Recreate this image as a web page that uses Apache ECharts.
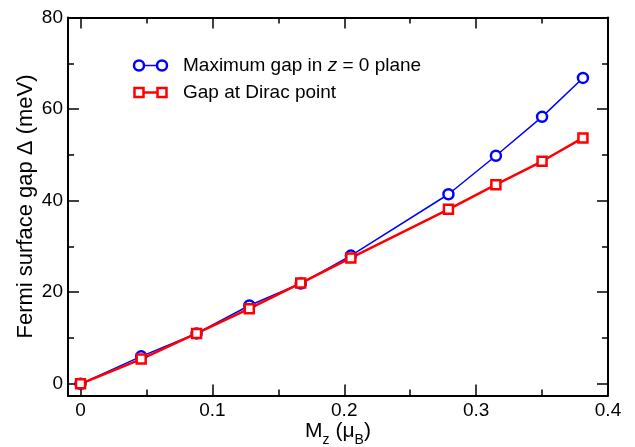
<!DOCTYPE html>
<html>
<head>
<meta charset="utf-8">
<script src="https://cdn.jsdelivr.net/npm/echarts@6/dist/echarts.min.js"></script>
<style>
  html, body { margin: 0; padding: 0; background: #fff; }
  #chart { width: 635px; height: 447px; }
</style>
</head>
<body>
<div id="chart"></div>
<script>
// Magnetization M_z (μB) at which the gaps were computed
const mz = [0, 0.046, 0.088, 0.128, 0.167, 0.205, 0.279, 0.315, 0.35, 0.381];
// Maximum gap in the z = 0 plane (meV)
const maxGap = [0, 6.0, 11.0, 17.1, 21.9, 28.0, 41.4, 49.8, 58.3, 66.8];
// Gap at the Dirac point (meV)
const diracGap = [0, 5.4, 11.0, 16.4, 22.0, 27.5, 38.1, 43.5, 48.6, 53.7];

const xMajor = [0, 0.1, 0.2, 0.3, 0.4];
const xMinor = [0.05, 0.15, 0.25, 0.35];
const yMajor = [0, 20, 40, 60, 80];
const yMinor = [10, 30, 50, 70];

const seriesNames = ['Maximum gap in z = 0 plane', 'Gap at Dirac point'];

const FONT = '"Liberation Sans", Arial, sans-serif';
const X_MIN = -0.0095, X_MAX = 0.4;
const Y_MIN = -2.55, Y_MAX = 80;

function pairs(xs, ys) { return xs.map((x, i) => [x, ys[i]]); }
function fmt(v) { return String(+(+v).toFixed(2)); }

function makeAxis(kind, position, ticks, len, withLine, withLabels) {
  return {
    type: 'value', position: position,
    min: kind === 'x' ? X_MIN : Y_MIN,
    max: kind === 'x' ? X_MAX : Y_MAX,
    nameMoveOverlap: false,
    splitLine: { show: false },
    axisLine: { show: withLine, onZero: false, lineStyle: { color: '#000', width: 2 } },
    axisTick: { show: true, inside: true, length: len, customValues: ticks,
                lineStyle: { color: '#000', width: 1.5 } },
    axisLabel: { show: withLabels, customValues: ticks, formatter: fmt,
                 color: '#000', fontSize: 19, fontFamily: FONT,
                 margin: kind === 'x' ? 6 : 5 }
  };
}

const xAxes = [
  makeAxis('x', 'bottom', xMajor, 11, true, true),
  makeAxis('x', 'bottom', xMinor, 6, false, false),
  makeAxis('x', 'top', xMajor, 11, true, false),
  makeAxis('x', 'top', xMinor, 6, false, false)
];
xAxes[0].name = '{a|M}{s|z}{a| (μ}{s|B}{a|)}';
xAxes[0].nameLocation = 'middle';
xAxes[0].nameGap = 25;
xAxes[0].nameTextStyle = {
  color: '#000', fontFamily: FONT,
  rich: {
    a: { fontSize: 21, fontFamily: FONT, color: '#000', lineHeight: 21, verticalAlign: 'top' },
    s: { fontSize: 14, fontFamily: FONT, color: '#000', lineHeight: 27, verticalAlign: 'bottom' }
  }
};

const yAxes = [
  makeAxis('y', 'left', yMajor, 11, true, true),
  makeAxis('y', 'left', yMinor, 6, false, false),
  makeAxis('y', 'right', yMajor, 11, true, false),
  makeAxis('y', 'right', yMinor, 6, false, false)
];
yAxes[0].name = 'Fermi surface gap Δ (meV)';
yAxes[0].nameLocation = 'middle';
yAxes[0].nameRotate = 90;
yAxes[0].nameGap = 31;
yAxes[0].nameTextStyle = { color: '#000', fontSize: 22, fontFamily: FONT };

// Legend drawn as two sample lines with their markers plus labels
const LX0 = 139, LX1 = 162, LT = 183, LY0 = 65.5, LY1 = 92.5;
const legendGraphic = [
  { type: 'line', shape: { x1: LX0, y1: LY0, x2: LX1, y2: LY0 }, style: { stroke: '#0000ff', lineWidth: 1.5 } },
  { type: 'circle', shape: { cx: LX0, cy: LY0, r: 5 }, style: { fill: '#fff', stroke: '#0000ff', lineWidth: 2.5 } },
  { type: 'circle', shape: { cx: LX1, cy: LY0, r: 5 }, style: { fill: '#fff', stroke: '#0000ff', lineWidth: 2.5 } },
  { type: 'text', x: LT, y: LY0, style: {
      text: '{a|Maximum gap in }{i|z}{a| = 0 plane}', verticalAlign: 'middle',
      rich: {
        a: { fontSize: 19, fontFamily: FONT, fill: '#000' },
        i: { fontSize: 19, fontFamily: FONT, fontStyle: 'italic', fill: '#000' }
      } } },
  { type: 'line', shape: { x1: LX0, y1: LY1, x2: LX1, y2: LY1 }, style: { stroke: '#ff0000', lineWidth: 2.5 } },
  { type: 'rect', shape: { x: LX0 - 4.5, y: LY1 - 4.5, width: 9, height: 9 }, style: { fill: '#fff', stroke: '#ff0000', lineWidth: 2.5 } },
  { type: 'rect', shape: { x: LX1 - 4.5, y: LY1 - 4.5, width: 9, height: 9 }, style: { fill: '#fff', stroke: '#ff0000', lineWidth: 2.5 } },
  { type: 'text', x: LT, y: LY1, style: {
      text: seriesNames[1], verticalAlign: 'middle',
      fontSize: 19, fontFamily: FONT, fill: '#000' } }
];

const chart = echarts.init(document.getElementById('chart'), null, { renderer: 'canvas' });
chart.setOption({
  animation: false,
  backgroundColor: '#fff',
  grid: { left: 68, right: 27, top: 17.5, bottom: 51.5, containLabel: false, outerBoundsMode: 'none' },
  xAxis: xAxes,
  yAxis: yAxes,
  graphic: legendGraphic,
  series: [
    {
      name: seriesNames[0], type: 'line', xAxisIndex: 0, yAxisIndex: 0,
      data: pairs(mz, maxGap),
      symbol: 'circle', symbolSize: 10,
      lineStyle: { color: '#0000ff', width: 1.5 },
      itemStyle: { color: '#fff', borderColor: '#0000ff', borderWidth: 2.5 }
    },
    {
      name: seriesNames[1], type: 'line', xAxisIndex: 0, yAxisIndex: 0,
      data: pairs(mz, diracGap),
      symbol: 'rect', symbolSize: 9,
      lineStyle: { color: '#ff0000', width: 2.5 },
      itemStyle: { color: '#fff', borderColor: '#ff0000', borderWidth: 2.5 }
    }
  ]
});
</script>
</body>
</html>
